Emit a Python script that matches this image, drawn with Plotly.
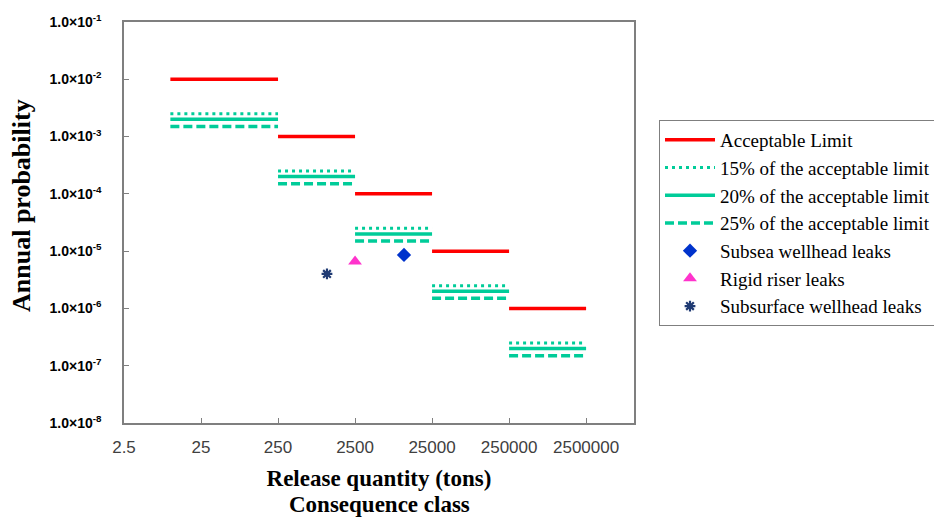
import plotly.graph_objects as go

# ---- data ----
seg_start = [10, 250, 2500, 25000, 250000]
seg_end = [250, 2500, 25000, 250000, 2500000]
acceptable_limit = [1e-2, 1e-3, 1e-4, 1e-5, 1e-6]
limit_dotted = [2.5e-3, 2.5e-4, 2.5e-5, 2.5e-6, 2.5e-7]   # drawn dotted ("15%" label)
limit_solid = [2.0e-3, 2.0e-4, 2.0e-5, 2.0e-6, 2.0e-7]    # drawn solid ("20%" label)
limit_dashed = [1.5e-3, 1.5e-4, 1.5e-5, 1.5e-6, 1.5e-7]   # drawn dashed ("25%" label)

subsea_x = [10800]
subsea_y = [8.6e-6]
riser_x = [2500]
riser_y = [6.6e-6]
subsurface_x = [1080]
subsurface_y = [4.0e-6]

x_tickvals = [2.5, 25, 250, 2500, 25000, 250000, 2500000]
x_ticktext = ["2.5", "25", "250", "2500", "25000", "250000", "2500000"]
y_tickvals = [1e-8, 1e-7, 1e-6, 1e-5, 1e-4, 1e-3, 1e-2, 1e-1]
y_ticktext = ["1.0×10<sup>-8</sup>", "1.0×10<sup>-7</sup>", "1.0×10<sup>-6</sup>",
              "1.0×10<sup>-5</sup>", "1.0×10<sup>-4</sup>", "1.0×10<sup>-3</sup>",
              "1.0×10<sup>-2</sup>", "1.0×10<sup>-1</sup>"]

GREEN = "#00CC99"

# plot area in pixels (for placing legend / titles)
W, H = 934, 521
L, R, T, B = 124, 634, 22, 423
PW, PH = R - L, B - T


def segs(values):
    xs, ys = [], []
    for s, e, v in zip(seg_start, seg_end, values):
        xs += [s, e, None]
        ys += [v, v, None]
    return xs, ys


fig = go.Figure()
x, y = segs(acceptable_limit)
fig.add_trace(go.Scatter(x=x, y=y, mode="lines", name="Acceptable Limit",
                         line=dict(color="#FF0000", width=3.5)))
x, y = segs(limit_dotted)
fig.add_trace(go.Scatter(x=x, y=y, mode="lines", name="15% of the acceptable limit",
                         line=dict(color=GREEN, width=3, dash="3px,4px")))
x, y = segs(limit_solid)
fig.add_trace(go.Scatter(x=x, y=y, mode="lines", name="20% of the acceptable limit",
                         line=dict(color=GREEN, width=3.5)))
x, y = segs(limit_dashed)
fig.add_trace(go.Scatter(x=x, y=y, mode="lines", name="25% of the acceptable limit",
                         line=dict(color=GREEN, width=3.5, dash="9px,4px")))
fig.add_trace(go.Scatter(x=subsea_x, y=subsea_y, mode="markers", name="Subsea wellhead leaks",
                         marker=dict(symbol="diamond", size=11, color="#0033CC")))
fig.add_trace(go.Scatter(x=riser_x, y=riser_y, mode="markers", name="Rigid riser leaks",
                         marker=dict(symbol="triangle-up", size=12, color="#FF33CC")))
fig.add_trace(go.Scatter(x=subsurface_x, y=subsurface_y, mode="markers",
                         name="Subsurface wellhead leaks",
                         marker=dict(symbol="asterisk-open", size=9, color="#1F3A73",
                                     line=dict(color="#1F3A73", width=2.2))))

fig.update_layout(
    width=W, height=H,
    margin=dict(l=L, r=W - R, t=T, b=H - B, autoexpand=False),
    paper_bgcolor="white", plot_bgcolor="white",
    showlegend=True,
    legend=dict(xref="container", yref="container",
                x=659 / W, y=1 - 120 / H, xanchor="left", yanchor="top",
                bordercolor="#7F7F7F", borderwidth=1, bgcolor="white",
                font=dict(family="Liberation Serif", size=19, color="black"),
                tracegroupgap=0, itemwidth=50),
    font=dict(family="Liberation Sans", color="#404040"),
    annotations=[
        dict(text="<b>Consequence class</b>", xref="paper", yref="paper",
             x=0.5, y=-(505 - B) / PH, xanchor="center", yanchor="middle",
             showarrow=False,
             font=dict(family="Liberation Serif", size=23, color="black")),
        dict(text="<b>Annual probability</b>", xref="paper", yref="paper",
             x=-(L - 22) / PW, y=(B - 206) / PH, xanchor="center", yanchor="middle",
             textangle=-90, showarrow=False,
             font=dict(family="Liberation Serif", size=26, color="black")),
    ],
)
fig.update_xaxes(
    type="log", range=[0.3979, 7.02],
    tickmode="array", tickvals=x_tickvals, ticktext=x_ticktext,
    ticks="inside", ticklen=5, tickcolor="#7F7F7F", tickwidth=1,
    ticklabelstandoff=8,
    tickfont=dict(family="Liberation Sans", size=17, color="#404040"),
    showline=True, linecolor="#7F7F7F", linewidth=1.5, mirror=True,
    showgrid=False, zeroline=False,
    title=dict(text="<b>Release quantity (tons)</b>",
               font=dict(family="Liberation Serif", size=23, color="black"), standoff=14),
)
fig.update_yaxes(
    type="log", range=[-8, -1],
    tickmode="array", tickvals=y_tickvals, ticktext=y_ticktext,
    ticks="inside", ticklen=5, tickcolor="#7F7F7F", tickwidth=1,
    ticklabelstandoff=18,
    tickfont=dict(family="Liberation Sans", size=14, color="black", weight="bold"),
    showline=True, linecolor="#7F7F7F", linewidth=1.5, mirror=True,
    showgrid=False, zeroline=False,
)

fig.write_html("out.html", post_script="document.body.style.margin='0';",
               config={"displayModeBar": False})
